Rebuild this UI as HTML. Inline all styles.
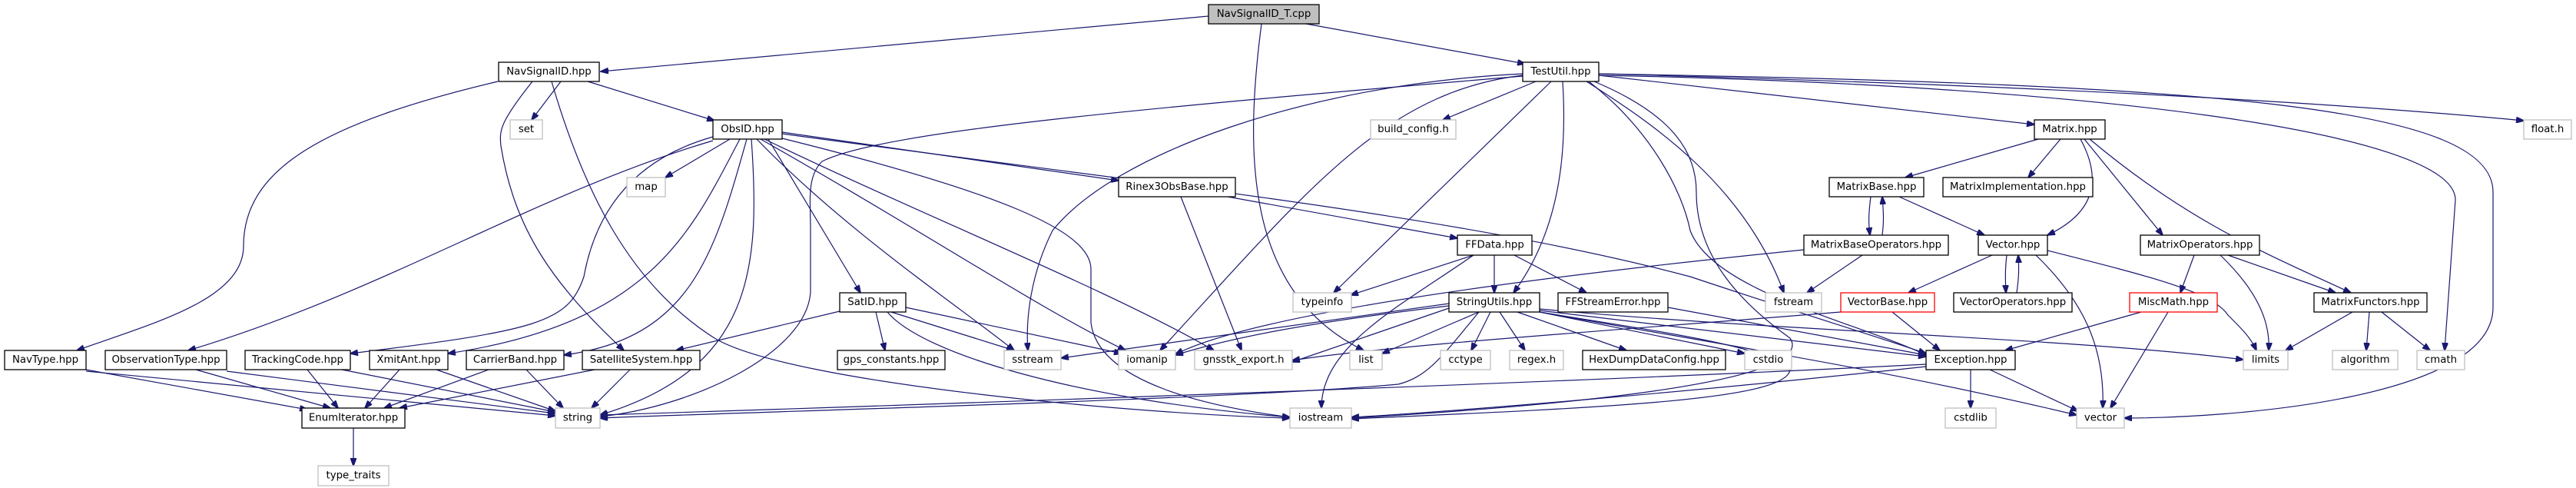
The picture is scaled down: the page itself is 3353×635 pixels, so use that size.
<!DOCTYPE html>
<html><head><meta charset="utf-8"><style>
html,body{margin:0;padding:0;background:#fff;}
svg{display:block;}
text{font-family:"DejaVu Sans","Liberation Sans",sans-serif;font-size:13.3px;fill:#000;text-anchor:middle;dominant-baseline:central;}
.e{fill:none;stroke:#191970;stroke-width:1.2;marker-end:url(#a);}
.b{fill:#fff;stroke:#000;stroke-width:1.3;}
.g{fill:#fff;stroke:#bfbfbf;stroke-width:1.3;}
.r{fill:#fff;stroke:#ff0000;stroke-width:1.3;}
.root{fill:#bfbfbf;stroke:#000;stroke-width:1.3;}
</style></head><body>
<svg width="3353" height="635" viewBox="0 0 3353 635" xmlns="http://www.w3.org/2000/svg">
<defs><marker id="a" markerWidth="11" markerHeight="8" refX="10" refY="4" orient="auto" markerUnits="userSpaceOnUse"><path d="M0,0 L11,4 L0,8 z" fill="#191970" stroke="#191970"/></marker></defs>
<g>
<path class="e" d="M1573,21 L782,93"/>
<path class="e" d="M1700,31 L1985,83"/>
<path class="e" d="M1642,31 C1620,200 1620,380 1775,456"/>
<path class="e" d="M730,106 L692,156"/>
<path class="e" d="M765,106 L930,157"/>
<path class="e" d="M648,106 C420,160 317,220 317,320 C317,390 200,420 100,456"/>
<path class="e" d="M693,106 C650,160 650,170 652,190 C670,300 720,370 812,456"/>
<path class="e" d="M718,106 C760,250 820,370 930,440 C1030,500 1500,540 1679,544"/>
<path class="e" d="M1999,106 L1878,156"/>
<path class="e" d="M2019,106 L1736,381"/>
<path class="e" d="M2034,106 C2040,200 2030,300 1970,381"/>
<path class="e" d="M2081,98 L2648,162"/>
<path class="e" d="M2081,96 C2600,110 3000,130 3285,157"/>
<path class="e" d="M2081,98 C2700,110 3196,170 3196,260 L3182,456"/>
<path class="e" d="M2081,96 C2900,110 3245,140 3245,250 L3245,400 C3245,520 2900,544 2765,544"/>
<path class="e" d="M2065,106 C2150,160 2270,240 2322,381"/>
<path class="e" d="M2068,106 C2150,170 2190,250 2200,300 C2230,380 2420,420 2507,462"/>
<path class="e" d="M2075,106 C2180,150 2208,200 2208,250 C2208,330 2260,390 2330,440 C2370,500 2000,530 1759,544"/>
<path class="e" d="M1982,96 C1700,110 1450,200 1370,300 C1340,360 1335,420 1338,456"/>
<path class="e" d="M1982,98 C1800,120 1700,250 1510,456"/>
<path class="e" d="M1982,99 C1500,140 1150,170 1070,210 C1050,230 1055,260 1055,300 L1055,380 C1050,460 900,530 781,542"/>
<path class="e" d="M950,181 L866,231"/>
<path class="e" d="M1018,172 L1456,235"/>
<path class="e" d="M1000,181 L1120,381"/>
<path class="e" d="M928,183 C700,250 500,380 245,456"/>
<path class="e" d="M928,178 C850,200 780,250 760,360 C740,420 700,430 456,460"/>
<path class="e" d="M963,181 C900,300 850,420 583,460"/>
<path class="e" d="M972,181 C930,330 900,440 734,462"/>
<path class="e" d="M978,181 C990,350 980,480 781,540"/>
<path class="e" d="M985,181 C1100,300 1250,400 1320,456"/>
<path class="e" d="M990,181 C1200,300 1350,400 1465,456"/>
<path class="e" d="M995,181 C1200,280 1450,380 1580,456"/>
<path class="e" d="M1018,180 C1300,250 1420,300 1420,350 L1420,420 C1430,500 1580,530 1679,543"/>
<path class="e" d="M1018,174 C1500,240 1900,280 2200,360 C2350,410 2450,440 2507,460"/>
<path class="e" d="M1598,256 L1897,310"/>
<path class="e" d="M1537,256 L1616,456"/>
<path class="e" d="M1918,332 L1758,384"/>
<path class="e" d="M1945,332 L1945,381"/>
<path class="e" d="M1971,332 L2065,381"/>
<path class="e" d="M1918,332 C1820,400 1720,450 1720,531"/>
<path class="e" d="M1140,406 L1152,456"/>
<path class="e" d="M1160,406 L1320,456"/>
<path class="e" d="M1179,400 L1460,460"/>
<path class="e" d="M1155,406 C1200,460 1400,520 1679,543"/>
<path class="e" d="M1093,405 L880,456"/>
<path class="e" d="M1886,395 L1381,466"/>
<path class="e" d="M1886,398 C1700,420 1600,440 1530,462"/>
<path class="e" d="M1886,401 L1682,471"/>
<path class="e" d="M1925,406 L1799,460"/>
<path class="e" d="M1940,406 L1915,456"/>
<path class="e" d="M1952,406 L1985,456"/>
<path class="e" d="M1975,406 L2117,456"/>
<path class="e" d="M2004,406 L2271,460"/>
<path class="e" d="M2004,404 L2507,464"/>
<path class="e" d="M2004,402 C2300,430 2700,440 2920,468"/>
<path class="e" d="M2004,406 C2250,450 2450,480 2703,540"/>
<path class="e" d="M1925,406 C1880,460 1860,490 1820,500 C1600,520 1000,535 781,544"/>
<path class="e" d="M2004,406 C2150,430 2300,450 2330,480 C2330,520 2100,530 1759,545"/>
<path class="e" d="M2171,400 L2507,462"/>
<path class="e" d="M2348,325 C2100,350 1650,400 1530,461"/>
<path class="e" d="M2396,406 C2100,430 1800,450 1682,469"/>
<path class="e" d="M2463,406 L2525,456"/>
<path class="e" d="M2507,474 C2000,500 1100,530 781,540"/>
<path class="e" d="M2507,477 C2200,510 1900,535 1759,543"/>
<path class="e" d="M2565,481 L2565,531"/>
<path class="e" d="M2590,481 L2705,535"/>
<path class="e" d="M2653,181 L2480,231"/>
<path class="e" d="M2682,181 L2640,231"/>
<path class="e" d="M2708,181 C2740,240 2720,280 2665,306"/>
<path class="e" d="M2713,181 L2815,306"/>
<path class="e" d="M2720,181 C2850,290 2950,330 3060,381"/>
<path class="e" d="M2435,256 C2432,280 2432,290 2434,306"/>
<path class="e" d="M2450,306 C2452,290 2452,280 2450,256"/>
<path class="e" d="M2472,256 L2583,306"/>
<path class="e" d="M2424,332 L2352,381"/>
<path class="e" d="M2593,332 L2484,381"/>
<path class="e" d="M2612,332 C2610,350 2610,360 2611,381"/>
<path class="e" d="M2625,381 C2628,360 2628,350 2627,332"/>
<path class="e" d="M2650,332 C2710,390 2740,450 2737,531"/>
<path class="e" d="M2665,326 C2800,360 2880,380 2900,410 C2920,430 2930,440 2937,456"/>
<path class="e" d="M2856,332 L2838,381"/>
<path class="e" d="M2890,332 C2940,380 2955,420 2953,456"/>
<path class="e" d="M2900,332 L3040,381"/>
<path class="e" d="M2787,406 L2610,456"/>
<path class="e" d="M2822,406 L2747,531"/>
<path class="e" d="M3062,406 L2975,456"/>
<path class="e" d="M3084,406 L3080,456"/>
<path class="e" d="M3100,406 L3163,456"/>
<path class="e" d="M112,481 L400,533"/>
<path class="e" d="M112,483 L723,541"/>
<path class="e" d="M255,481 L430,531"/>
<path class="e" d="M295,483 L723,538"/>
<path class="e" d="M400,481 L440,531"/>
<path class="e" d="M445,481 L723,536"/>
<path class="e" d="M520,481 L475,531"/>
<path class="e" d="M568,481 L723,535"/>
<path class="e" d="M636,481 L500,531"/>
<path class="e" d="M685,481 L733,531"/>
<path class="e" d="M774,481 L520,531"/>
<path class="e" d="M820,481 L770,531"/>
<path class="e" d="M460,557 L460,606"/>
</g>
<g>
<rect class="root" x="1573" y="6" width="144" height="25"/><text x="1645" y="18.5">NavSignalID_T.cpp</text>
<rect class="b" x="649" y="81" width="131" height="25"/><text x="714.5" y="93.5">NavSignalID.hpp</text>
<rect class="b" x="1982" y="81" width="99" height="25"/><text x="2031.5" y="93.5">TestUtil.hpp</text>
<rect class="g" x="664" y="156" width="42" height="25"/><text x="685" y="168.5">set</text>
<rect class="b" x="928" y="156" width="90" height="25"/><text x="973" y="168.5">ObsID.hpp</text>
<rect class="g" x="1784" y="156" width="111" height="25"/><text x="1839.5" y="168.5">build_config.h</text>
<rect class="b" x="2648" y="156" width="92" height="25"/><text x="2694" y="168.5">Matrix.hpp</text>
<rect class="g" x="3285" y="156" width="62" height="25"/><text x="3316" y="168.5">float.h</text>
<rect class="g" x="816" y="231" width="50" height="25"/><text x="841" y="243.5">map</text>
<rect class="b" x="1456" y="231" width="152" height="25"/><text x="1532" y="243.5">Rinex3ObsBase.hpp</text>
<rect class="b" x="2381" y="231" width="123" height="25"/><text x="2442.5" y="243.5">MatrixBase.hpp</text>
<rect class="b" x="2529" y="231" width="195" height="25"/><text x="2626.5" y="243.5">MatrixImplementation.hpp</text>
<rect class="b" x="1897" y="306" width="97" height="26"/><text x="1945.5" y="319">FFData.hpp</text>
<rect class="b" x="2348" y="306" width="188" height="26"/><text x="2442" y="319">MatrixBaseOperators.hpp</text>
<rect class="b" x="2575" y="306" width="90" height="26"/><text x="2620" y="319">Vector.hpp</text>
<rect class="b" x="2786" y="306" width="155" height="26"/><text x="2863.5" y="319">MatrixOperators.hpp</text>
<rect class="b" x="1093" y="381" width="86" height="25"/><text x="1136" y="393.5">SatID.hpp</text>
<rect class="g" x="1683" y="381" width="76" height="25"/><text x="1721" y="393.5">typeinfo</text>
<rect class="b" x="1886" y="381" width="118" height="25"/><text x="1945" y="393.5">StringUtils.hpp</text>
<rect class="b" x="2028" y="381" width="143" height="25"/><text x="2099.5" y="393.5">FFStreamError.hpp</text>
<rect class="g" x="2298" y="381" width="73" height="25"/><text x="2334.5" y="393.5">fstream</text>
<rect class="r" x="2396" y="381" width="122" height="25"/><text x="2457" y="393.5">VectorBase.hpp</text>
<rect class="b" x="2543" y="381" width="154" height="25"/><text x="2620" y="393.5">VectorOperators.hpp</text>
<rect class="r" x="2772" y="381" width="114" height="25"/><text x="2829" y="393.5">MiscMath.hpp</text>
<rect class="b" x="3012" y="381" width="147" height="25"/><text x="3085.5" y="393.5">MatrixFunctors.hpp</text>
<rect class="b" x="6" y="456" width="106" height="25"/><text x="59" y="468.5">NavType.hpp</text>
<rect class="b" x="137" y="456" width="158" height="25"/><text x="216" y="468.5">ObservationType.hpp</text>
<rect class="b" x="319" y="456" width="137" height="25"/><text x="387.5" y="468.5">TrackingCode.hpp</text>
<rect class="b" x="481" y="456" width="102" height="25"/><text x="532" y="468.5">XmitAnt.hpp</text>
<rect class="b" x="607" y="456" width="127" height="25"/><text x="670.5" y="468.5">CarrierBand.hpp</text>
<rect class="b" x="758" y="456" width="153" height="25"/><text x="834.5" y="468.5">SatelliteSystem.hpp</text>
<rect class="b" x="1090" y="456" width="140" height="25"/><text x="1160" y="468.5">gps_constants.hpp</text>
<rect class="g" x="1307" y="456" width="74" height="25"/><text x="1344" y="468.5">sstream</text>
<rect class="g" x="1456" y="456" width="74" height="25"/><text x="1493" y="468.5">iomanip</text>
<rect class="g" x="1555" y="456" width="127" height="25"/><text x="1618.5" y="468.5">gnsstk_export.h</text>
<rect class="g" x="1757" y="456" width="42" height="25"/><text x="1778" y="468.5">list</text>
<rect class="g" x="1875" y="456" width="65" height="25"/><text x="1907.5" y="468.5">cctype</text>
<rect class="g" x="1965" y="456" width="70" height="25"/><text x="2000" y="468.5">regex.h</text>
<rect class="b" x="2060" y="456" width="186" height="25"/><text x="2153" y="468.5">HexDumpDataConfig.hpp</text>
<rect class="g" x="2271" y="456" width="61" height="25"/><text x="2301.5" y="468.5">cstdio</text>
<rect class="b" x="2507" y="456" width="116" height="25"/><text x="2565" y="468.5">Exception.hpp</text>
<rect class="g" x="2920" y="456" width="58" height="25"/><text x="2949" y="468.5">limits</text>
<rect class="g" x="3036" y="456" width="85" height="25"/><text x="3078.5" y="468.5">algorithm</text>
<rect class="g" x="3146" y="456" width="62" height="25"/><text x="3177" y="468.5">cmath</text>
<rect class="b" x="393" y="531" width="134" height="26"/><text x="460" y="544">EnumIterator.hpp</text>
<rect class="g" x="723" y="531" width="58" height="26"/><text x="752" y="544">string</text>
<rect class="g" x="1679" y="531" width="80" height="26"/><text x="1719" y="544">iostream</text>
<rect class="g" x="2532" y="531" width="66" height="26"/><text x="2565" y="544">cstdlib</text>
<rect class="g" x="2703" y="531" width="62" height="26"/><text x="2734" y="544">vector</text>
<rect class="g" x="414" y="606" width="92" height="26"/><text x="460" y="619">type_traits</text>
</g>
</svg>
</body></html>
